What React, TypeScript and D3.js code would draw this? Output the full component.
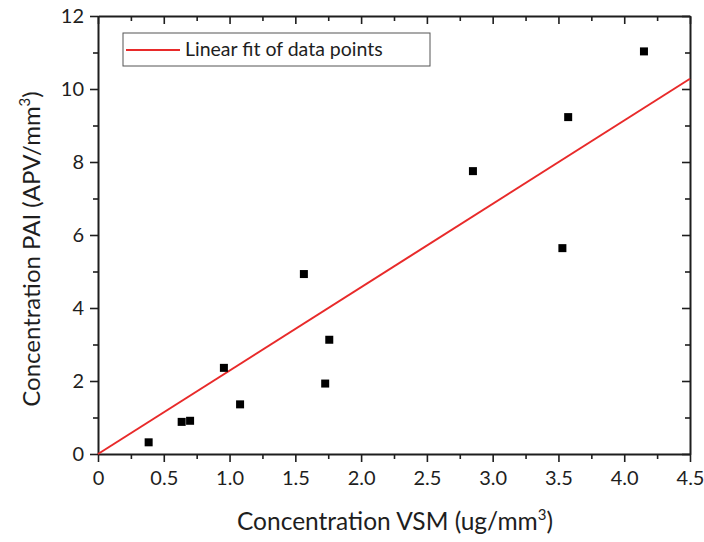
import React, { useRef, useEffect } from "react";
import * as d3 from "d3";

// points
const vsm = [0.385, 0.636, 0.7, 0.957, 1.08, 1.565, 1.727, 1.758, 2.85, 3.53, 3.574, 4.15];
const pai = [0.32, 0.88, 0.91, 2.36, 1.36, 4.93, 1.93, 3.13, 7.75, 5.64, 9.23, 11.03];
// fitted line (through origin)
const fitX = [0, 4.5];
const fitY = [0, 10.28];
const xTicks = [0, 0.5, 1.0, 1.5, 2.0, 2.5, 3.0, 3.5, 4.0, 4.5];
const yTicks = [0, 2, 4, 6, 8, 10, 12];

const W = 704;
const H = 542;
const m = { left: 98, right: 14, top: 16, bottom: 88 };
const FONT = "Lato, 'Open Sans', sans-serif";
const AX = "#1e1e1e";

const App = () => {
  const svgRef = useRef<SVGSVGElement>(null);

  useEffect(() => {
    const svg = d3.select(svgRef.current);
    svg.selectAll("*").remove();

    const x = d3.scaleLinear().domain([0, 4.5]).range([m.left, W - m.right]);
    const y = d3.scaleLinear().domain([0, 12]).range([H - m.bottom, m.top]);

    const xMinor = d3.range(0.25, 4.5, 0.5);
    const yMinor = d3.range(1, 12, 2);

    // bottom axis
    const gx = svg.append("g").attr("transform", `translate(0,${y(0)})`);
    gx.call(d3.axisBottom(x).tickValues(xTicks).tickSize(8).tickSizeOuter(0)
      .tickFormat((d) => (d === 0 ? "0" : d3.format(".1f")(d as number))));
    gx.append("g").call(d3.axisBottom(x).tickValues(xMinor).tickSize(5).tickFormat(() => ""))
      .select(".domain").remove();

    // left axis
    const gy = svg.append("g").attr("transform", `translate(${x(0)},0)`);
    gy.call(d3.axisLeft(y).tickValues(yTicks).tickSize(8).tickSizeOuter(0).tickPadding(6));
    gy.append("g").call(d3.axisLeft(y).tickValues(yMinor).tickSize(5).tickFormat(() => ""))
      .select(".domain").remove();

    // top mirror, ticks inward
    const gt = svg.append("g").attr("transform", `translate(0,${y(12)})`);
    gt.call(d3.axisBottom(x).tickValues(xTicks).tickSize(8).tickSizeOuter(0).tickFormat(() => ""));
    gt.append("g").call(d3.axisBottom(x).tickValues(xMinor).tickSize(5).tickFormat(() => ""))
      .select(".domain").remove();

    // right mirror, ticks inward
    const gr = svg.append("g").attr("transform", `translate(${x(4.5)},0)`);
    gr.call(d3.axisLeft(y).tickValues(yTicks).tickSize(8).tickSizeOuter(0).tickFormat(() => ""));
    gr.append("g").call(d3.axisLeft(y).tickValues(yMinor).tickSize(5).tickFormat(() => ""))
      .select(".domain").remove();

    svg.selectAll(".domain").attr("stroke", AX).attr("stroke-width", 2);
    svg.selectAll(".tick line").attr("stroke", AX).attr("stroke-width", 1.6);
    svg.selectAll(".tick text").attr("fill", AX).attr("font-size", 20).attr("font-family", FONT);
    gx.selectAll(".tick text").attr("dy", "1.0em");

    // fit line
    const ln = d3.line<number>().x((d, i) => x(fitX[i])).y((d) => y(d));
    svg.append("path").datum(fitY).attr("d", ln).attr("fill", "none")
      .attr("stroke", "#e82a2a").attr("stroke-width", 2);

    // points
    const s = 8;
    svg.append("g").selectAll("rect").data(vsm).join("rect")
      .attr("x", (d) => x(d) - s / 2)
      .attr("y", (d, i) => y(pai[i]) - s / 2)
      .attr("width", s).attr("height", s).attr("fill", "#000");

    // legend
    const lg = svg.append("g");
    lg.append("rect").attr("x", 123).attr("y", 33).attr("width", 307).attr("height", 33)
      .attr("fill", "#fff").attr("stroke", "#555").attr("stroke-width", 1);
    lg.append("line").attr("x1", 126).attr("x2", 180).attr("y1", 50).attr("y2", 50)
      .attr("stroke", "#e82a2a").attr("stroke-width", 2);
    lg.append("text").attr("x", 185).attr("y", 56).attr("font-size", 19.5).attr("font-family", FONT)
      .attr("fill", AX).text("Linear fit of data points");

    // axis titles
    const xt = svg.append("text").attr("x", 395).attr("y", 530)
      .attr("text-anchor", "middle").attr("font-size", 24.5).attr("font-family", FONT).attr("fill", AX);
    xt.append("tspan").text("Concentration VSM (ug/mm");
    xt.append("tspan").attr("font-size", 15).attr("dy", -10).text("3");
    xt.append("tspan").attr("dy", 10).text(")");

    const yt = svg.append("text").attr("transform", `translate(40,249) rotate(-90)`)
      .attr("text-anchor", "middle").attr("font-size", 24).attr("font-family", FONT).attr("fill", AX);
    yt.append("tspan").text("Concentration PAI (APV/mm");
    yt.append("tspan").attr("font-size", 15).attr("dy", -10).text("3");
    yt.append("tspan").attr("dy", 10).text(")");
  }, []);

  return (
    <div style={{ width: W, height: H }}>
      <svg ref={svgRef} width={W} height={H} style={{ position: "absolute", left: 0, top: 0, background: "#fff" }} />
    </div>
  );
};

export default App;
